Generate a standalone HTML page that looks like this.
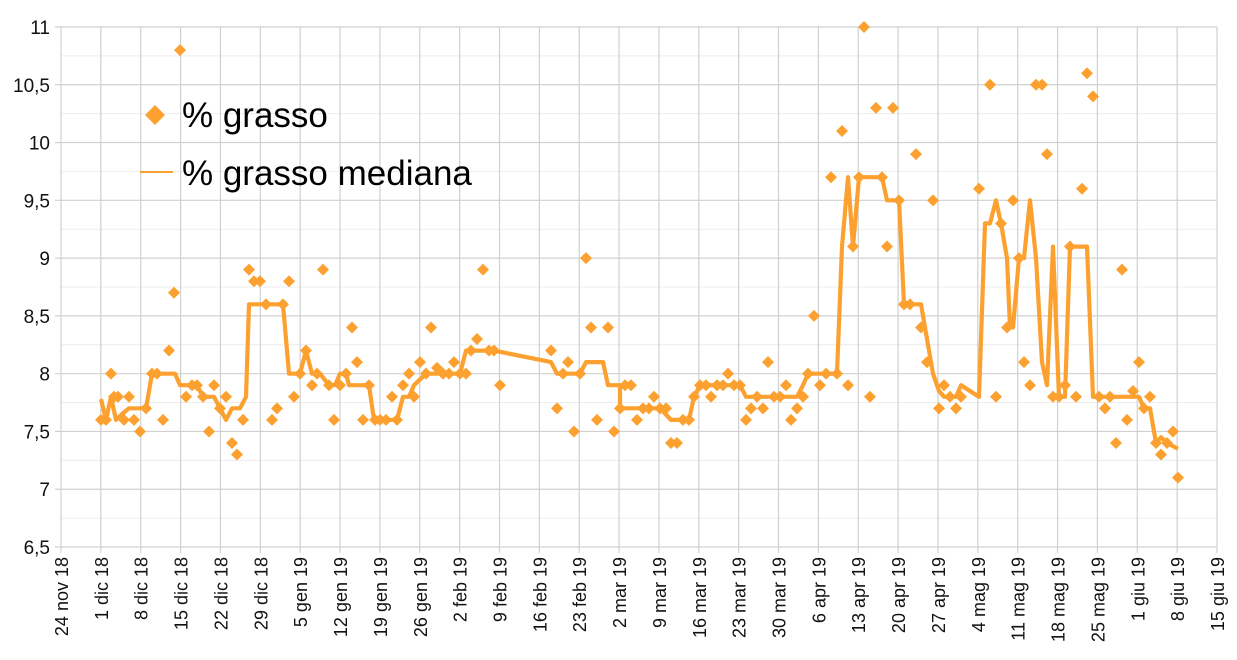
<!DOCTYPE html>
<html><head><meta charset="utf-8"><style>
html,body{margin:0;padding:0;background:#fff;}
svg{display:block;font-family:"Liberation Sans",Arial,sans-serif;}
</style></head><body>
<svg id="c" width="1237" height="660" xmlns="http://www.w3.org/2000/svg"></svg>
<script>
const S=document.getElementById('c');
const L=61,R=1217,T=27,B=547;
const Y=v=>B-(v-6.5)*(B-T)/4.5;
let h='';
for(let v=6.75;v<11;v+=0.5)h+=`<line x1="${L}" x2="${R}" y1="${Y(v)}" y2="${Y(v)}" stroke="#ececec" stroke-width="1"/>`;
for(let i=0;i<=29;i++){const x=L+i*(R-L)/29;h+=`<line x1="${x}" x2="${x}" y1="${T}" y2="${B+6}" stroke="#d0d0d0" stroke-width="1.2"/>`;}
for(let k=0;k<=9;k++){const v=6.5+k*0.5;h+=`<line x1="${L-6}" x2="${R}" y1="${Y(v)}" y2="${Y(v)}" stroke="#d0d0d0" stroke-width="1.2"/>`;
h+=`<text x="50" y="${Y(v)+7}" font-size="19" text-anchor="end" fill="#111">${String(v).replace('.',',')}</text>`;}
const labs=["24 nov 18","1 dic 18","8 dic 18","15 dic 18","22 dic 18","29 dic 18","5 gen 19","12 gen 19","19 gen 19","26 gen 19","2 feb 19","9 feb 19","16 feb 19","23 feb 19","2 mar 19","9 mar 19","16 mar 19","23 mar 19","30 mar 19","6 apr 19","13 apr 19","20 apr 19","27 apr 19","4 mag 19","11 mag 19","18 mag 19","25 mag 19","1 giu 19","8 giu 19","15 giu 19"];
labs.forEach((t,i)=>{const x=L+i*(R-L)/29+7;h+=`<text transform="translate(${x},557) rotate(-90)" font-size="18" text-anchor="end" fill="#111">${t}</text>`;});
const med=[[101,7.78],[106,7.6],[111,7.8],[116,7.6],[122,7.65],[129,7.7],[146,7.7],[152,8.0],[157,8.0],[175,8.0],[180,7.9],[197,7.9],[203,7.8],[214,7.8],[220,7.7],[226,7.6],[232,7.7],[240,7.7],[246,7.8],[249,8.6],[283,8.6],[289,8.0],[300,8.0],[306,8.2],[312,8.0],[320,8.0],[329,7.9],[335,7.9],[340,8.0],[346,8.0],[349,7.9],[369,7.9],[374,7.6],[397,7.6],[403,7.8],[409,7.8],[414,7.9],[426,8.0],[460,8.0],[466,8.2],[471,8.2],[494,8.2],[551,8.1],[557,8.0],[580,8.0],[586,8.1],[603,8.1],[608,7.9],[620,7.9],[620,7.7],[660,7.7],[671,7.6],[689,7.6],[694,7.8],[700,7.9],[740,7.9],[746,7.8],[797,7.8],[803,7.9],[808,8.0],[837,8.0],[842,9.1],[848,9.7],[853,9.1],[859,9.7],[882,9.7],[887,9.5],[899,9.5],[904,8.6],[921,8.6],[927,8.3],[933,8.0],[939,7.85],[944,7.8],[956,7.8],[961,7.9],[979,7.8],[985,9.3],[990,9.3],[996,9.5],[1001,9.3],[1007,9.0],[1010,8.4],[1013,8.4],[1019,9.0],[1024,9.0],[1030,9.5],[1036,9.0],[1042,8.1],[1047,7.9],[1053,9.1],[1059,7.8],[1065,7.8],[1070,9.1],[1087,9.1],[1093,7.8],[1139,7.8],[1144,7.7],[1150,7.7],[1156,7.4],[1161,7.45],[1167,7.4],[1178,7.35]];
h+=`<polyline fill="none" stroke="#fca130" stroke-width="4.2" stroke-linejoin="round" points="${med.map(p=>p[0]+','+Y(p[1]).toFixed(1)).join(' ')}"/>`;
const pts=[[101,7.6],[106,7.6],[111,8.0],[114,7.8],[118,7.8],[124,7.6],[129,7.8],[134,7.6],[140,7.5],[146,7.7],[152,8.0],[157,8.0],[163,7.6],[169,8.2],[174,8.7],[180,10.8],[186,7.8],[192,7.9],[197,7.9],[203,7.8],[209,7.5],[214,7.9],[220,7.7],[226,7.8],[232,7.4],[237,7.3],[243,7.6],[249,8.9],[254,8.8],[260,8.8],[266,8.6],[272,7.6],[277,7.7],[283,8.6],[289,8.8],[294,7.8],[300,8.0],[306,8.2],[312,7.9],[317,8.0],[323,8.9],[329,7.9],[334,7.6],[340,7.9],[346,8.0],[352,8.4],[357,8.1],[363,7.6],[369,7.9],[375,7.6],[380,7.6],[386,7.6],[392,7.8],[397,7.6],[403,7.9],[409,8.0],[414,7.8],[420,8.1],[426,8.0],[431,8.4],[437,8.05],[443,8.0],[449,8.0],[454,8.1],[460,8.0],[466,8.0],[471,8.2],[477,8.3],[483,8.9],[489,8.2],[494,8.2],[500,7.9],[551,8.2],[557,7.7],[563,8.0],[568,8.1],[574,7.5],[580,8.0],[586,9.0],[591,8.4],[597,7.6],[608,8.4],[614,7.5],[620,7.7],[625,7.9],[631,7.9],[637,7.6],[643,7.7],[649,7.7],[654,7.8],[660,7.7],[666,7.7],[671,7.4],[677,7.4],[683,7.6],[689,7.6],[694,7.8],[700,7.9],[706,7.9],[711,7.8],[717,7.9],[723,7.9],[728,8.0],[734,7.9],[740,7.9],[746,7.6],[751,7.7],[757,7.8],[763,7.7],[768,8.1],[774,7.8],[780,7.8],[786,7.9],[791,7.6],[797,7.7],[803,7.8],[808,8.0],[814,8.5],[820,7.9],[826,8.0],[831,9.7],[837,8.0],[842,10.1],[848,7.9],[853,9.1],[859,9.7],[864,11.0],[870,7.8],[876,10.3],[882,9.7],[887,9.1],[893,10.3],[899,9.5],[904,8.6],[910,8.6],[916,9.9],[921,8.4],[927,8.1],[933,9.5],[939,7.7],[944,7.9],[950,7.8],[956,7.7],[961,7.8],[979,9.6],[990,10.5],[996,7.8],[1001,9.3],[1007,8.4],[1013,9.5],[1019,9.0],[1024,8.1],[1030,7.9],[1036,10.5],[1042,10.5],[1047,9.9],[1053,7.8],[1059,7.8],[1065,7.9],[1070,9.1],[1076,7.8],[1082,9.6],[1087,10.6],[1093,10.4],[1099,7.8],[1105,7.7],[1110,7.8],[1116,7.4],[1122,8.9],[1127,7.6],[1133,7.85],[1139,8.1],[1144,7.7],[1150,7.8],[1156,7.4],[1161,7.3],[1167,7.4],[1173,7.5],[1178,7.1]];
const d=(x,y,r)=>`<path d="M${x} ${y-r}L${x+r} ${y}L${x} ${y+r}L${x-r} ${y}Z" fill="#fca130"/>`;
pts.forEach(p=>h+=d(p[0],Y(p[1]),6));
h+=d(155,115,10);
h+=`<text x="182" y="127" font-size="35" fill="#000">% grasso</text>`;
h+=`<line x1="140" x2="173" y1="172" y2="172" stroke="#fca130" stroke-width="2"/>`;
h+=`<text x="182" y="185" font-size="35" fill="#000">% grasso mediana</text>`;
S.innerHTML=h;
</script>
</body></html>
